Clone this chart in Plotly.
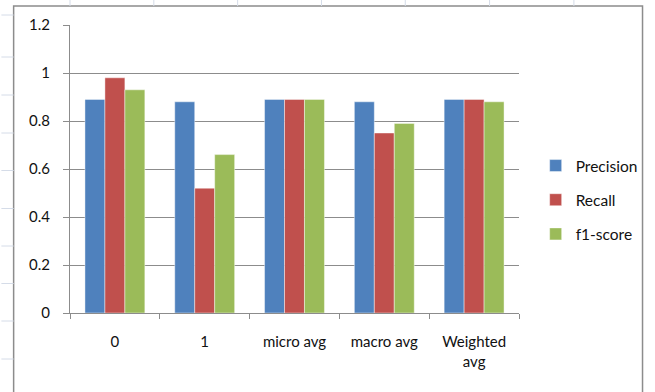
import plotly.graph_objects as go

# Classification report scores per class / average
categories = ["0", "1", "micro avg", "macro avg", "Weighted<br>avg"]
precision = [0.89, 0.88, 0.89, 0.88, 0.89]
recall = [0.98, 0.52, 0.89, 0.75, 0.89]
f1_score = [0.93, 0.66, 0.89, 0.79, 0.88]

y_ticks = [0, 0.2, 0.4, 0.6, 0.8, 1.0, 1.2]
y_tick_text = ["0", "0.2", "0.4", "0.6", "0.8", "1", "1.2"]

series = [
    ("Precision", precision, "#4F81BD"),
    ("Recall", recall, "#C0504D"),
    ("f1-score", f1_score, "#9BBB59"),
]

W, H = 655, 392
L, R, T, B = 70, 528, 25, 313  # plot area in pixels


def px(x):
    return (x - L) / (R - L)


def py(y):
    return (B - y) / (B - T)


fig = go.Figure()
for i, (name, vals, color) in enumerate(series):
    fig.add_trace(go.Bar(
        x=categories, y=vals, name=name,
        marker=dict(color=color, line=dict(color="rgba(255,255,255,0.55)", width=0.8)),
        legendgroup=name,
    ))

shapes = []
# worksheet grid behind the chart object
grid_col = "#D5DCE8"
for x in [70, 155.5, 241, 326.5, 412, 498, 584]:
    shapes.append(dict(type="line", xref="paper", yref="paper",
                       x0=px(x), x1=px(x), y0=py(0), y1=py(6),
                       line=dict(color=grid_col, width=1)))
for y in [15, 57, 95, 133, 170.5, 208.5, 246, 283.5, 321, 359]:
    shapes.append(dict(type="line", xref="paper", yref="paper",
                       x0=px(0), x1=px(12.5), y0=py(y), y1=py(y),
                       line=dict(color=grid_col, width=1)))
# chart object frame
shapes.append(dict(type="rect", xref="paper", yref="paper", layer="below",
                   x0=px(12.5), x1=px(654), y0=py(6), y1=py(400),
                   fillcolor="white", line=dict(color="#8C8C8C", width=1.5)))

font = dict(family="Lato, Open Sans, sans-serif", size=15, color="#111111")

fig.update_layout(
    width=W, height=H,
    margin=dict(l=L, r=W - R, t=T, b=H - B),
    paper_bgcolor="white", plot_bgcolor="rgba(0,0,0,0)",
    barmode="group", bargap=0.333, bargroupgap=0,
    font=font,
    shapes=shapes,
    showlegend=True,
    legend=dict(x=px(545), y=py(200), xanchor="left", yanchor="middle",
                font=dict(family="Lato, sans-serif", size=15.5, color="#111111"),
                tracegroupgap=11, bgcolor="rgba(0,0,0,0)", itemwidth=30),
    xaxis=dict(
        showline=True, linecolor="#8C8C8C", linewidth=1.2,
        ticks="outside", tickson="boundaries", ticklen=5, tickcolor="#8C8C8C",
        tickwidth=1.2, showgrid=False, ticklabelstandoff=15,
        tickfont=font,
    ),
    yaxis=dict(
        range=[0, 1.2], tickvals=y_ticks, ticktext=y_tick_text,
        showline=True, linecolor="#8C8C8C", linewidth=1.2,
        ticks="outside", ticklen=6, tickcolor="#8C8C8C", tickwidth=1.2,
        showgrid=True, gridcolor="#8C8C8C", gridwidth=1.2,
        zeroline=False, ticklabelstandoff=10, tickfont=font,
    ),
)

fig.write_html("out.html")
